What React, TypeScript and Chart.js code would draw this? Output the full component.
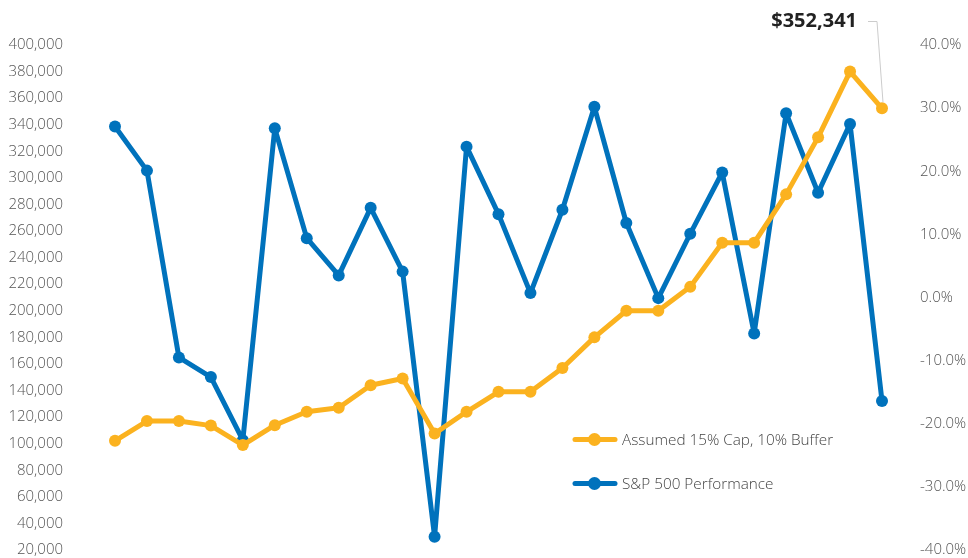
import React, { useEffect, useRef } from "react";
import { Chart, registerables } from "chart.js";

Chart.register(...registerables);

// ---- Data ----
const years = [
  "1998", "1999", "2000", "2001", "2002", "2003", "2004", "2005", "2006", "2007",
  "2008", "2009", "2010", "2011", "2012", "2013", "2014", "2015", "2016", "2017",
  "2018", "2019", "2020", "2021", "2022",
];

const bufferValues = [
  102200, 117000, 117000, 113600, 99000, 113900, 124000, 127000, 144000, 149000,
  107600, 124000, 139000, 139000, 157000, 180000, 200000, 200000, 218000, 251200,
  251200, 287600, 330500, 380000, 352341,
];

const sp500Returns = [
  27.1, 20.1, -9.5, -12.6, -22.6, 26.8, 9.4, 3.5, 14.2, 4.1,
  -37.9, 23.9, 13.2, 0.7, 13.9, 30.2, 11.8, -0.1, 10.1, 19.8,
  -5.7, 29.2, 16.6, 27.5, -16.4,
];

const seriesNames = ["Assumed 15% Cap, 10% Buffer", "S&P 500 Performance"];
const seriesColors = ["#FBB21F", "#0072BC"];

const leftMin = 20000;
const leftMax = 400000;
const leftStep = 20000;
const rightMin = -40;
const rightMax = 40;
const rightStep = 10;

const FONT = '"Open Sans", "Noto Sans", sans-serif';

const overlayPlugin = {
  id: "overlay",
  afterDatasetsDraw(chart: any) {
    const ctx = chart.ctx;
    const meta = chart.getDatasetMeta(0);
    const last = meta.data[meta.data.length - 1];
    const lastVal = bufferValues[bufferValues.length - 1];
    ctx.save();
    // leader line
    ctx.strokeStyle = "#cccccc";
    ctx.lineWidth = 1;
    ctx.beginPath();
    ctx.moveTo(last.x - 14, 21.5);
    ctx.lineTo(last.x - 5, 21.5);
    ctx.lineTo(last.x + 1, last.y - 6);
    ctx.stroke();
    // value label
    ctx.font = `bold 20px ${FONT}`;
    ctx.fillStyle = "#222222";
    ctx.textAlign = "right";
    ctx.textBaseline = "middle";
    ctx.fillText("$" + lastVal.toLocaleString("en-US"), last.x - 25, 21);

    // legend
    const lx = 573;
    const rows = [439.5, 483.5];
    seriesNames.forEach((name, i) => {
      const y = rows[i];
      ctx.strokeStyle = seriesColors[i];
      ctx.lineWidth = 5;
      ctx.lineCap = "round";
      ctx.beginPath();
      ctx.moveTo(lx + 2, y);
      ctx.lineTo(lx + 42, y);
      ctx.stroke();
      ctx.fillStyle = seriesColors[i];
      ctx.beginPath();
      ctx.arc(lx + 21.5, y, 6.5, 0, Math.PI * 2);
      ctx.fill();
      ctx.font = `300 15.3px ${FONT}`;
      ctx.fillStyle = "#444444";
      ctx.textAlign = "left";
      ctx.textBaseline = "middle";
      ctx.fillText(name, lx + 49, y + 1);
    });
    ctx.restore();
  },
};

export default function App() {
  const canvasRef = useRef<HTMLCanvasElement | null>(null);

  useEffect(() => {
    document.body.style.margin = "0";
    const canvas = canvasRef.current;
    if (!canvas) return;
    const lineStyle = (i: number) => ({
      borderColor: seriesColors[i],
      backgroundColor: seriesColors[i],
      borderWidth: 5,
      borderJoinStyle: "round" as const,
      borderCapStyle: "round" as const,
      pointRadius: 6,
      pointBorderWidth: 0,
      pointBackgroundColor: seriesColors[i],
      tension: 0,
      fill: false,
    });
    const fitAxis = (w: number) => (scale: any) => {
      scale.width = w;
      scale.paddingTop = 0;
      scale.paddingBottom = 0;
    };
    const chart = new Chart(canvas, {
      type: "line",
      data: {
        labels: years,
        datasets: [
          {
            label: seriesNames[0],
            data: bufferValues,
            yAxisID: "yLeft",
            ...lineStyle(0),
          },
          {
            label: seriesNames[1],
            data: sp500Returns,
            yAxisID: "yRight",
            ...lineStyle(1),
          },
        ],
      },
      options: {
        responsive: false,
        animation: false,
        layout: { padding: { top: 45, bottom: 8, left: 0, right: 0 } },
        plugins: {
          legend: { display: false },
          tooltip: { enabled: false },
        },
        scales: {
          x: {
            display: false,
            offset: false,
          },
          yLeft: {
            position: "left",
            min: leftMin,
            max: leftMax,
            grid: { display: false, drawTicks: true, tickLength: 50 },
            border: { display: false },
            ticks: {
              stepSize: leftStep,
              padding: 2,
              color: "#555555",
              font: { family: FONT, size: 15, weight: 300 },
              callback: (v: any) => Number(v).toLocaleString("en-US"),
            },
            afterFit: fitAxis(115),
          },
          yRight: {
            position: "right",
            min: rightMin,
            max: rightMax,
            grid: { display: false, drawTicks: true, tickLength: 36 },
            border: { display: false },
            ticks: {
              stepSize: rightStep,
              padding: 2,
              color: "#555555",
              font: { family: FONT, size: 15, weight: 300 },
              callback: (v: any) => Number(v).toFixed(1) + "%",
            },
            afterFit: fitAxis(86),
          },
        },
      },
      plugins: [overlayPlugin],
    });
    return () => chart.destroy();
  }, []);

  return (
    <div style={{ width: 968, height: 558, position: "relative", background: "#ffffff" }}>
      <canvas ref={canvasRef} width={968} height={558} style={{ display: "block" }} />
    </div>
  );
}
